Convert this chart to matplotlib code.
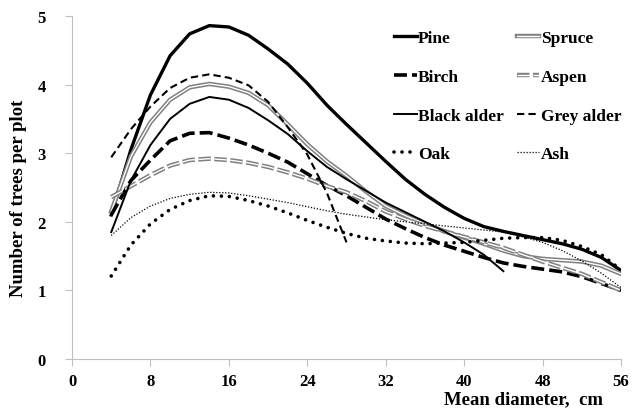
import matplotlib
matplotlib.use('Agg')
import matplotlib.pyplot as plt
import matplotlib.patheffects as pe

plt.rcParams['font.family'] = ['Liberation Serif', 'DejaVu Serif']
plt.rcParams['font.weight'] = 'bold'

# Средний диаметр, см
diam = [4, 6, 8, 10, 12, 14, 16, 18, 20, 22, 24, 26, 28, 30,
        32, 34, 36, 38, 40, 42, 44, 46, 48, 50, 52, 54, 56]

pine = [2.1, 3.05, 3.85, 4.42, 4.74, 4.86, 4.84, 4.72, 4.52, 4.3, 4.02, 3.7, 3.42, 3.15,
        2.88, 2.62, 2.4, 2.21, 2.05, 1.93, 1.86, 1.8, 1.74, 1.68, 1.6, 1.48, 1.29]
spruce = [2.15, 2.95, 3.45, 3.78, 3.96, 4.01, 3.97, 3.88, 3.7, 3.42, 3.13, 2.88, 2.67, 2.44,
          2.23, 2.09, 1.97, 1.86, 1.77, 1.68, 1.58, 1.5, 1.46, 1.44, 1.42, 1.36, 1.24]
birch = [2.1, 2.6, 2.9, 3.18, 3.29, 3.3, 3.22, 3.12, 3.0, 2.87, 2.7, 2.53, 2.38, 2.21,
         2.04, 1.9, 1.77, 1.66, 1.57, 1.48, 1.4, 1.35, 1.31, 1.27, 1.2, 1.1, 1.0]
aspen = [2.36, 2.52, 2.68, 2.82, 2.9, 2.92, 2.9, 2.86, 2.8, 2.72, 2.63, 2.52, 2.43, 2.3,
         2.15, 2.04, 1.94, 1.86, 1.78, 1.7, 1.62, 1.52, 1.42, 1.33, 1.24, 1.12, 1.0]
black_alder = [1.85, 2.6, 3.12, 3.5, 3.72, 3.82, 3.78, 3.66, 3.48, 3.28, 3.03, 2.8, 2.62, 2.45,
               2.28, 2.14, 2.0, 1.86, 1.7, 1.52, 1.28]
grey_alder = [2.94, 3.35, 3.68, 3.95, 4.1, 4.15, 4.1, 3.99, 3.75, 3.38, 2.98, 2.42, 1.7]
oak = [1.21, 1.66, 1.97, 2.18, 2.31, 2.38, 2.37, 2.31, 2.23, 2.13, 2.02, 1.92, 1.83, 1.76,
       1.72, 1.69, 1.68, 1.69, 1.7, 1.73, 1.76, 1.77, 1.77, 1.73, 1.64, 1.52, 1.3]
ash = [1.8, 2.06, 2.23, 2.34, 2.4, 2.43, 2.42, 2.38, 2.33, 2.28, 2.22, 2.16, 2.11, 2.07,
       2.03, 2.0, 1.97, 1.94, 1.91, 1.88, 1.85, 1.78, 1.7, 1.58, 1.43, 1.25, 1.04]

x_ticks = [0, 8, 16, 24, 32, 40, 48, 56]
y_ticks = [0, 1, 2, 3, 4, 5]

fig = plt.figure(figsize=(6.38, 4.10), dpi=100)
ax = fig.add_axes([0.1129, 0.122, 0.8605, 0.8365])

double = [pe.Stroke(linewidth=3.2, foreground='#808080'), pe.Normal()]

l_pine, = ax.plot(diam, pine, color='black', lw=2.4, label='Pine')
l_spruce, = ax.plot(diam, spruce, color='white', lw=1.0, label='Spruce',
                    path_effects=double)
l_birch, = ax.plot(diam, birch, color='black', lw=2.6, dashes=(3.6, 1.4), label='Birch')
l_aspen, = ax.plot(diam, aspen, color='white', lw=1.0, dashes=(9, 2.5), label='Aspen',
                   path_effects=double)
l_balder, = ax.plot(diam[:len(black_alder)], black_alder, color='black', lw=1.4,
                    label='Black alder')
l_galder, = ax.plot(diam[:len(grey_alder)], grey_alder, color='black', lw=1.5,
                    dashes=(3.5, 2), label='Grey alder')
l_oak, = ax.plot(diam, oak, color='black', lw=2.6, dashes=(0.01, 2.2),
                 dash_capstyle='round', label='Oak')
l_ash, = ax.plot(diam, ash, color='black', lw=0.9, dashes=(1, 1.4), label='Ash')

ax.set_xlim(0, 56)
ax.set_ylim(0, 5)
ax.set_xticks(x_ticks)
ax.set_yticks(y_ticks)

for s in ['top', 'right']:
    ax.spines[s].set_visible(False)
for s in ['left', 'bottom']:
    ax.spines[s].set_color('#bfbfbf')
ax.tick_params(axis='both', colors='#bfbfbf', labelcolor='black', labelsize=12, length=5)
ax.tick_params(axis='y', pad=14)
ax.tick_params(axis='x', pad=5)

ax.set_ylabel('Number of trees per plot', fontsize=13.5, fontweight='bold')
ax.yaxis.set_label_coords(-0.082, 0.472)
ax.set_xlabel('Mean diameter,  cm', fontsize=13.5, fontweight='bold', loc='right')
ax.xaxis.set_label_coords(0.967, -0.117)
ax.xaxis.label.set_va('center')

handles = [l_pine, l_birch, l_balder, l_oak, l_spruce, l_aspen, l_galder, l_ash]
ax.legend(handles=handles, ncol=2, frameon=False, loc='upper left',
          bbox_to_anchor=(394 / 638, 1 - 31 / 410), bbox_transform=fig.transFigure,
          prop={'size': 12.5, 'weight': 'bold'}, handlelength=1.3, handletextpad=0.08,
          columnspacing=0.75, labelspacing=1.3, borderpad=0, borderaxespad=0)

fig.savefig('out.png', dpi=100)
